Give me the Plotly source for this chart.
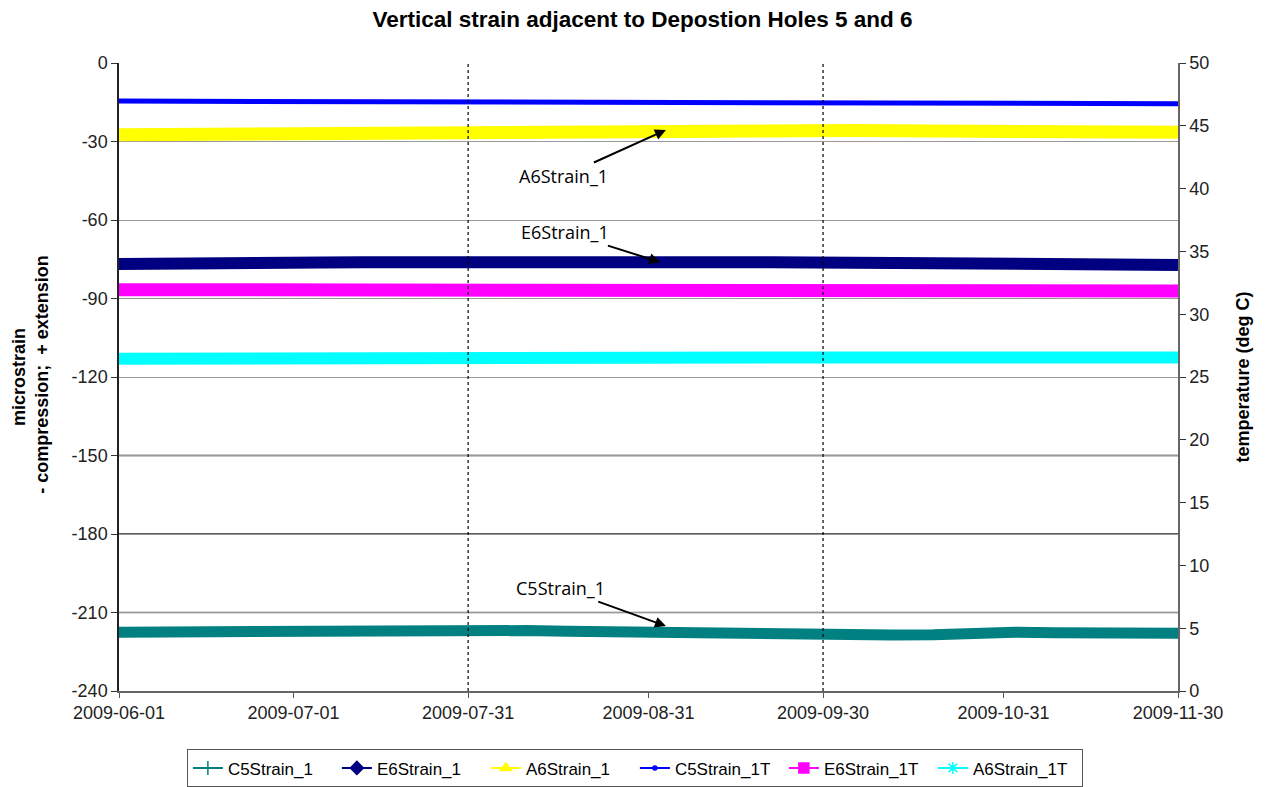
import pandas as pd
import plotly.graph_objects as go

# Messzeitpunkte (wöchentlich)
dates = pd.date_range("2009-06-01", "2009-11-30", freq="7D")

# Dehnung (microstrain), linke Achse
c5_strain = [-217.5, -217.4, -217.2, -217.0, -216.7, -216.4, -216.5, -216.6, -216.8, -216.6,
             -216.9, -217.2, -217.5, -217.6, -217.7, -217.9, -218.0, -218.3, -218.5, -218.6,
             -218.5, -217.6, -217.5, -217.7, -217.8, -217.9, -217.9]
e6_strain = [-76.8, -76.9, -76.6, -76.5, -76.4, -76.2, -76.1, -76.0, -76.0, -75.9,
             -75.8, -75.8, -75.9, -76.0, -76.0, -76.1, -76.1, -76.2, -76.3, -76.4,
             -76.5, -76.6, -76.7, -76.8, -77.0, -77.1, -77.2]
a6_strain = [-27.4, -27.3, -27.1, -26.9, -26.7, -26.5, -26.4, -26.2, -26.1, -25.8,
             -25.6, -25.4, -25.3, -25.3, -25.4, -25.5, -25.6, -25.7, -25.8, -25.9,
             -26.0, -26.1, -26.2, -26.3, -26.4, -26.4, -26.5]

# Temperatur (deg C), rechte Achse
c5_temp = [46.97, 46.96, 46.95, 46.94, 46.92, 46.90, 46.90, 46.89, 46.88, 46.87,
           46.86, 46.85, 46.84, 46.83, 46.82, 46.81, 46.80, 46.78, 46.76, 46.74,
           46.72, 46.71, 46.70, 46.72, 46.74, 46.75, 46.76]
e6_temp = [31.95, 31.95, 31.95, 31.9, 31.85, 31.85, 31.85, 31.85, 31.85, 31.85,
           31.85, 31.85, 31.85, 31.88, 31.85, 31.85, 31.85, 31.85, 31.85, 31.85,
           31.85, 31.85, 31.85, 31.85, 31.85, 31.85, 31.85]
a6_temp = [26.45, 26.47, 26.48, 26.48, 26.50, 26.50, 26.52, 26.52, 26.53, 26.55,
           26.55, 26.55, 26.56, 26.56, 26.55, 26.55, 26.55, 26.55, 26.55, 26.55,
           26.55, 26.55, 26.55, 26.55, 26.55, 26.55, 26.55]

tick_dates = ["2009-06-01", "2009-07-01", "2009-07-31", "2009-08-31",
              "2009-09-30", "2009-10-31", "2009-11-30"]
strain_ticks = [0, -30, -60, -90, -120, -150, -180, -210, -240]
strain_labels = ["0", "-30", "-60", "-90", "-120", "-150", "-180", "-210", "-240"]
marker_lines = ["2009-07-31", "2009-09-30"]

series = [
    ("C5Strain_1", c5_strain, "y", "#008080", 11, "cross-thin"),
    ("E6Strain_1", e6_strain, "y", "#000080", 12, "diamond"),
    ("A6Strain_1", a6_strain, "y", "#FFFF00", 13, "triangle-up"),
    ("C5Strain_1T", c5_temp, "y2", "#0000FF", 5, "circle"),
    ("E6Strain_1T", e6_temp, "y2", "#FF00FF", 13, "square"),
    ("A6Strain_1T", a6_temp, "y2", "#00FFFF", 12, "asterisk"),
]

fig = go.Figure()

# dunklere Gitterlinien wie im Original
for yv, col in [(-150, "#222"), (-180, "#222"), (-210, "#666")]:
    fig.add_shape(type="line", xref="paper", yref="y", x0=0, x1=1, y0=yv, y1=yv,
                  line=dict(color=col, width=1.3), layer="below")

for name, vals, ax, col, w, sym in series:
    fig.add_trace(go.Scatter(
        x=dates, y=vals, yaxis=ax, mode="lines", name=name,
        line=dict(color=col, width=w), showlegend=False
    ))

# Legendeneinträge mit Symbolen
for name, vals, ax, col, w, sym in series:
    fig.add_trace(go.Scatter(
        x=[None], y=[None], yaxis=ax, mode="lines+markers", name=name,
        line=dict(color=col, width=2),
        marker=dict(symbol=sym, color=col, size=10 if sym != "circle" else 4,
                    line=dict(color=col, width=1.5))
    ))

# senkrechte gepunktete Linien
for d in marker_lines:
    fig.add_shape(type="line", xref="x", yref="paper", x0=d, x1=d, y0=0, y1=1,
                  line=dict(color="black", width=1.2, dash="dot"))

arrow_font = dict(family="Open Sans, Noto Sans", size=18, color="black")
for txt, xd, yv, axp, ayp in [("A6Strain_1", "2009-09-03", -25.6, -102, 46),
                              ("E6Strain_1", "2009-09-02", -76.1, -95, -30),
                              ("C5Strain_1", "2009-09-03", -215.2, -105, -38)]:
    fig.add_annotation(x=xd, y=yv, ax=axp, ay=ayp, text=txt,
                       showarrow=True, arrowhead=2, arrowsize=1.1, arrowwidth=2,
                       arrowcolor="black", font=arrow_font, standoff=0)

fig.update_layout(
    width=1269, height=787,
    margin=dict(l=111, r=99, t=55, b=104),
    paper_bgcolor="white", plot_bgcolor="white",
    font=dict(family="Liberation Sans, Arial", size=18, color="#222"),
    title=dict(text="<b>Vertical strain adjacent to Depostion Holes 5 and 6</b>",
               x=0.5, xanchor="center", y=0.986, yanchor="middle",
               font=dict(family="Liberation Sans, Arial", size=22.5, color="black")),
    xaxis=dict(range=["2009-06-01", "2009-11-30"], tickvals=tick_dates,
               tickformat="%Y-%m-%d", ticks="outside", ticklen=5, tickcolor="#555",
               showgrid=False, showline=True, linecolor="#666", linewidth=1.5,
               zeroline=False, tickfont=dict(size=18), automargin=False),
    yaxis=dict(range=[-240, 0], tickvals=strain_ticks, ticktext=strain_labels,
               ticks="outside", ticklen=6, tickcolor="#333",
               showgrid=True, gridcolor="#999", gridwidth=1.2, zeroline=False,
               showline=True, linecolor="#222", linewidth=1.5, mirror=False,
               title=dict(text="<b>microstrain<br> - compression;  + extension</b>",
                          font=dict(size=18, color="black"), standoff=18),
               tickfont=dict(size=18), automargin=False),
    yaxis2=dict(range=[0, 50], dtick=5, overlaying="y", side="right",
                ticks="outside", ticklen=6, tickcolor="#333", showgrid=False,
                zeroline=False, showline=True, linecolor="#666", linewidth=1.5,
                title=dict(text="<b>temperature (deg C)</b>",
                           font=dict(size=18, color="black"), standoff=28),
                tickfont=dict(size=18), automargin=False),
    legend=dict(orientation="h", xref="container", yref="container",
                x=0.494, xanchor="center", y=0.058, yanchor="top",
                bordercolor="#555", borderwidth=1, bgcolor="white",
                font=dict(family="Liberation Sans, Arial", size=17, color="black"),
                itemwidth=30, tracegroupgap=0, entrywidth=104, entrywidthmode="pixels"),
)

fig.write_html("out.html")
